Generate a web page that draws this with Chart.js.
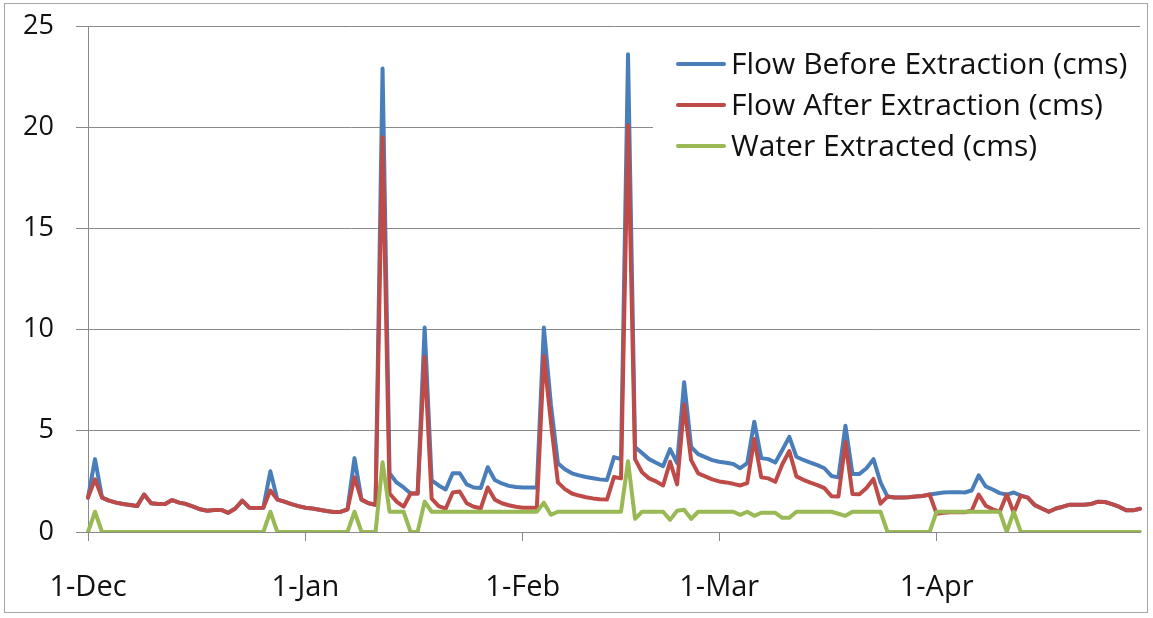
<!DOCTYPE html>
<html>
<head>
<meta charset="utf-8">
<title>Flow Before and After Extraction</title>
<script src="https://cdn.jsdelivr.net/npm/chart.js@4.4.1/dist/chart.umd.min.js"></script>
<style>
  html, body { margin: 0; padding: 0; background: #ffffff; }
  #wrap { position: relative; width: 1153px; height: 618px; }
  #frame {
    position: absolute; left: 4px; top: 3px; width: 1144px; height: 610px;
    border: 1.5px solid #a6a6a6; pointer-events: none; box-sizing: border-box;
  }
  canvas { display: block; }
</style>
</head>
<body>
<div id="wrap">
  <canvas id="chart" width="1153" height="618"></canvas>
  <div id="frame"></div>
</div>
<script>
// Daily record, 1 December to 30 April
const months = ['Dec', 'Jan', 'Feb', 'Mar', 'Apr'];
const monthLengths = [31, 31, 28, 31, 30];
const tickLabels = ['1-Dec', '1-Jan', '1-Feb', '1-Mar', '1-Apr'];

const categories = [];
months.forEach((m, k) => {
  for (let d = 1; d <= monthLengths[k]; d++) categories.push(d + '-' + m);
});

// Flow before extraction (cms)
const flowBefore = [
  // Dec
  1.7, 3.6, 1.7, 1.55, 1.45, 1.38, 1.33, 1.28, 1.85, 1.42,
  1.38, 1.38, 1.58, 1.45, 1.38, 1.25, 1.12, 1.05, 1.09, 1.09,
  0.95, 1.16, 1.55, 1.2, 1.18, 1.2, 3.0, 1.6, 1.5, 1.38, 1.28,
  // Jan
  1.2, 1.16, 1.1, 1.04, 0.99, 0.99, 1.12, 3.65, 1.6, 1.42,
  1.35, 22.9, 2.9, 2.45, 2.2, 1.9, 1.9, 10.1, 2.55, 2.3,
  2.1, 2.9, 2.9, 2.35, 2.2, 2.17, 3.2, 2.57, 2.4, 2.28, 2.22,
  // Feb
  2.2, 2.2, 2.2, 10.1, 6.3, 3.4, 3.1, 2.9, 2.8, 2.72,
  2.66, 2.6, 2.57, 3.7, 3.6, 23.6, 4.2, 3.9, 3.6, 3.42,
  3.25, 4.1, 3.4, 7.4, 4.2, 3.85, 3.7, 3.55,
  // Mar
  3.47, 3.42, 3.36, 3.15, 3.4, 5.45, 3.65, 3.6, 3.43, 4.05,
  4.7, 3.72, 3.56, 3.43, 3.3, 3.15, 2.77, 2.7, 5.25, 2.87,
  2.87, 3.15, 3.6, 2.45, 1.75, 1.7, 1.7, 1.72, 1.75, 1.78, 1.85,
  // Apr
  1.9, 1.95, 1.97, 1.97, 1.95, 2.05, 2.8, 2.25, 2.1, 1.92,
  1.85, 1.95, 1.8, 1.7, 1.33, 1.16, 1.0, 1.16, 1.25, 1.35,
  1.35, 1.35, 1.38, 1.5, 1.48, 1.38, 1.25, 1.08, 1.07, 1.15
];

// Flow after extraction (cms)
const flowAfter = [
  // Dec
  1.7, 2.6, 1.7, 1.55, 1.45, 1.38, 1.33, 1.28, 1.85, 1.42,
  1.38, 1.38, 1.58, 1.45, 1.38, 1.25, 1.12, 1.05, 1.09, 1.09,
  0.95, 1.16, 1.55, 1.2, 1.18, 1.2, 2.05, 1.6, 1.5, 1.38, 1.28,
  // Jan
  1.2, 1.16, 1.1, 1.04, 0.99, 0.99, 1.12, 2.7, 1.6, 1.42,
  1.35, 19.5, 1.9, 1.5, 1.25, 1.9, 1.9, 8.65, 1.65, 1.28,
  1.15, 1.95, 2.0, 1.42, 1.25, 1.17, 2.2, 1.6, 1.42, 1.32, 1.25,
  // Feb
  1.2, 1.2, 1.2, 8.7, 5.45, 2.45, 2.12, 1.9, 1.8, 1.72,
  1.66, 1.62, 1.6, 2.72, 2.65, 20.1, 3.6, 2.95, 2.65, 2.5,
  2.3, 3.47, 2.35, 6.3, 3.55, 2.9, 2.75, 2.6,
  // Mar
  2.5, 2.45, 2.38, 2.3, 2.42, 4.6, 2.7, 2.65, 2.48, 3.35,
  4.0, 2.75, 2.58, 2.44, 2.32, 2.17, 1.77, 1.75, 4.45, 1.88,
  1.87, 2.17, 2.62, 1.4, 1.75, 1.7, 1.7, 1.72, 1.75, 1.78, 1.85,
  // Apr
  0.9, 0.95, 0.97, 0.97, 0.98, 1.05, 1.85, 1.3, 1.12, 1.0,
  1.85, 0.95, 1.8, 1.7, 1.33, 1.16, 1.0, 1.16, 1.25, 1.35,
  1.35, 1.35, 1.38, 1.5, 1.48, 1.38, 1.25, 1.08, 1.07, 1.15
];

// Water extracted (cms)
const waterExtracted = [
  // Dec
  0, 1.0, 0, 0, 0, 0, 0, 0, 0, 0,
  0, 0, 0, 0, 0, 0, 0, 0, 0, 0,
  0, 0, 0, 0, 0, 0, 1.0, 0, 0, 0, 0,
  // Jan
  0, 0, 0, 0, 0, 0, 0, 1.0, 0, 0,
  0, 3.45, 1.0, 1.0, 1.0, 0, 0, 1.5, 1.0, 1.0,
  1.0, 1.0, 1.0, 1.0, 1.0, 1.0, 1.0, 1.0, 1.0, 1.0, 1.0,
  // Feb
  1.0, 1.0, 1.0, 1.45, 0.85, 1.0, 1.0, 1.0, 1.0, 1.0,
  1.0, 1.0, 1.0, 1.0, 1.0, 3.5, 0.65, 1.0, 1.0, 1.0,
  1.0, 0.6, 1.05, 1.1, 0.65, 1.0, 1.0, 1.0,
  // Mar
  1.0, 1.0, 1.0, 0.85, 1.0, 0.8, 0.95, 0.95, 0.95, 0.7,
  0.7, 1.0, 1.0, 1.0, 1.0, 1.0, 1.0, 0.9, 0.8, 1.0,
  1.0, 1.0, 1.0, 1.0, 0, 0, 0, 0, 0, 0, 0,
  // Apr
  1.0, 1.0, 1.0, 1.0, 1.0, 1.0, 1.0, 1.0, 1.0, 1.0,
  0, 1.0, 0, 0, 0, 0, 0, 0, 0, 0,
  0, 0, 0, 0, 0, 0, 0, 0, 0, 0
];

const seriesNames = ['Flow Before Extraction (cms)', 'Flow After Extraction (cms)', 'Water Extracted (cms)'];
const seriesColors = ['#4a7ebb', '#be4b48', '#98b954'];

const FONT = '"Open Sans", "Liberation Sans", sans-serif';
const GRID = '#8a8a8a';

// Legend drawn inside the plot on a white panel
const insideLegend = {
  id: 'insideLegend',
  afterDraw(chart) {
    const ctx = chart.ctx;
    const box = { x: 653, y: 38, w: 487, h: 132 };
    const rows = [64, 105, 146];
    ctx.save();
    ctx.fillStyle = '#ffffff';
    ctx.fillRect(box.x, box.y, box.w, box.h);
    ctx.font = '30px ' + FONT;
    ctx.textBaseline = 'middle';
    ctx.textAlign = 'left';
    chart.data.datasets.forEach((ds, i) => {
      const y = rows[i];
      ctx.strokeStyle = ds.borderColor;
      ctx.lineWidth = 4;
      ctx.lineCap = 'round';
      ctx.beginPath();
      ctx.moveTo(678, y);
      ctx.lineTo(724, y);
      ctx.stroke();
      ctx.fillStyle = '#111111';
      ctx.fillText(ds.label, 731, y + 1);
    });
    ctx.restore();
  }
};

new Chart(document.getElementById('chart'), {
  type: 'line',
  data: {
    labels: categories,
    datasets: [
      { label: seriesNames[0], data: flowBefore, borderColor: seriesColors[0], order: 3 },
      { label: seriesNames[1], data: flowAfter, borderColor: seriesColors[1], order: 2 },
      { label: seriesNames[2], data: waterExtracted, borderColor: seriesColors[2], order: 1 }
    ]
  },
  options: {
    responsive: false,
    animation: false,
    layout: { padding: { top: 26, right: 13, left: 0, bottom: 0 } },
    elements: {
      line: { borderWidth: 4, tension: 0, borderJoinStyle: 'round', borderCapStyle: 'round', fill: false },
      point: { radius: 0, hoverRadius: 0 }
    },
    plugins: {
      legend: { display: false },
      tooltip: { enabled: false }
    },
    scales: {
      x: {
        type: 'category',
        offset: false,
        afterBuildTicks(axis) {
          axis.ticks = axis.ticks.filter(t => tickLabels.includes(categories[t.value]));
        },
        afterFit(axis) { axis.height = 86; },
        grid: { drawOnChartArea: false, drawTicks: true, tickLength: 9, color: GRID, lineWidth: 1 },
        border: { display: true, color: GRID, width: 1 },
        ticks: {
          autoSkip: false, maxRotation: 0, minRotation: 0, padding: 29,
          color: '#111111', font: { family: FONT, size: 29 }
        }
      },
      y: {
        min: 0, max: 25,
        afterFit(axis) {
          axis.width = 88;
          axis.paddingTop = 0;
          axis.paddingBottom = 0;
        },
        grid: { color: GRID, lineWidth: 1, drawTicks: true, tickLength: 12 },
        border: { display: true, color: GRID, width: 1 },
        ticks: {
          stepSize: 5, padding: 22,
          color: '#111111', font: { family: FONT, size: 27 }
        }
      }
    }
  },
  plugins: [insideLegend]
});
</script>
</body>
</html>
